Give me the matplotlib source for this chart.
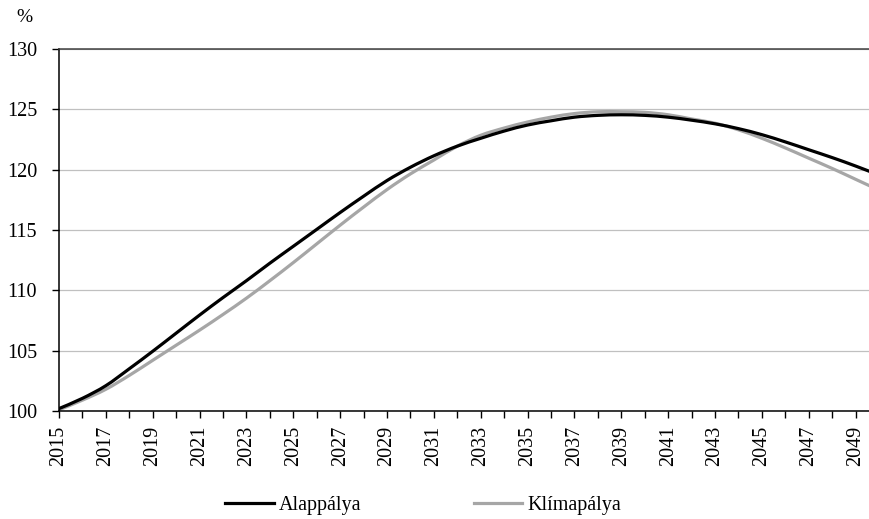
import matplotlib.pyplot as plt
from matplotlib.path import Path
from matplotlib.patches import PathPatch
from matplotlib.lines import Line2D

plt.rcParams['font.family'] = ['Liberation Serif', 'DejaVu Serif']

years = list(range(2015, 2051))

alappalya = [100.2, 101.05, 102.1, 103.5, 104.95, 106.45, 107.95, 109.4, 110.8, 112.25,
             113.65, 115.05, 116.45, 117.8, 119.1, 120.2, 121.15, 121.95, 122.6, 123.2,
             123.7, 124.05, 124.35, 124.5, 124.55, 124.5, 124.35, 124.1, 123.8, 123.4,
             122.9, 122.3, 121.65, 121.0, 120.3, 119.55]

klimapalya = [100.1, 100.9, 101.8, 102.95, 104.2, 105.45, 106.7, 108.0, 109.35, 110.8,
              112.3, 113.85, 115.4, 116.9, 118.35, 119.65, 120.8, 121.95, 122.85, 123.45,
              123.95, 124.35, 124.65, 124.8, 124.8, 124.75, 124.55, 124.2, 123.85, 123.3,
              122.6, 121.8, 120.95, 120.1, 119.2, 118.3]

y_ticks = [100, 105, 110, 115, 120, 125, 130]


def smooth_path(xs, ys):
    # Catmull-Rom through the yearly points, written as cubic Bezier segments
    pts = list(zip(xs, ys))
    verts = [pts[0]]
    codes = [Path.MOVETO]
    for i in range(len(pts) - 1):
        p0 = pts[max(i - 1, 0)]
        p1 = pts[i]
        p2 = pts[i + 1]
        p3 = pts[min(i + 2, len(pts) - 1)]
        c1 = (p1[0] + (p2[0] - p0[0]) / 6, p1[1] + (p2[1] - p0[1]) / 6)
        c2 = (p2[0] - (p3[0] - p1[0]) / 6, p2[1] - (p3[1] - p1[1]) / 6)
        verts += [c1, c2, p2]
        codes += [Path.CURVE4] * 3
    return Path(verts, codes)


fig = plt.figure(figsize=(8.69, 5.19), dpi=100)
ax = fig.add_axes([59 / 869, 1 - 411 / 519, 1 - 59 / 869, (411 - 49) / 519])

series = [('Alappálya', alappalya, 'black', 3), ('Klímapálya', klimapalya, '#a6a6a6', 2)]
handles = []
for name, vals, col, z in series:
    ax.add_patch(PathPatch(smooth_path(years, vals), fill=False, edgecolor=col,
                           lw=2.3, zorder=z, capstyle='round', joinstyle='round'))
    handles.append(Line2D([], [], color=col, lw=2.3, label=name))

ax.set_xlim(2015, 2049.57)
ax.set_ylim(100, 130)
ax.set_yticks(y_ticks)
ax.set_xticks(years[:-1])
ax.set_xticklabels([str(y) if (y - 2015) % 2 == 0 else '' for y in years[:-1]], rotation=90)
ax.tick_params(axis='both', labelsize=14.5, length=4.8, width=1, direction='out', colors='black')
ax.tick_params(axis='x', pad=6)
ax.tick_params(axis='y', pad=11)

ax.grid(axis='y', color='#c0c0c0', lw=0.9)
ax.set_axisbelow(True)
ax.spines['left'].set_color('black')
ax.spines['bottom'].set_color('black')
ax.spines['top'].set_color('#404040')
ax.spines['right'].set_visible(False)
for s in ('left', 'bottom', 'top'):
    ax.spines[s].set_linewidth(1.1)

fig.text(24 / 869, 1 - 18 / 519, '%', fontsize=14, ha='center', va='center')

fig.legend(handles=handles, loc='center', bbox_to_anchor=(0.487, 1 - 505 / 519), ncol=2,
           frameon=False, fontsize=14.5, handlelength=2.4, handletextpad=0.25, columnspacing=5.6)

fig.savefig('out.png', dpi=100)
